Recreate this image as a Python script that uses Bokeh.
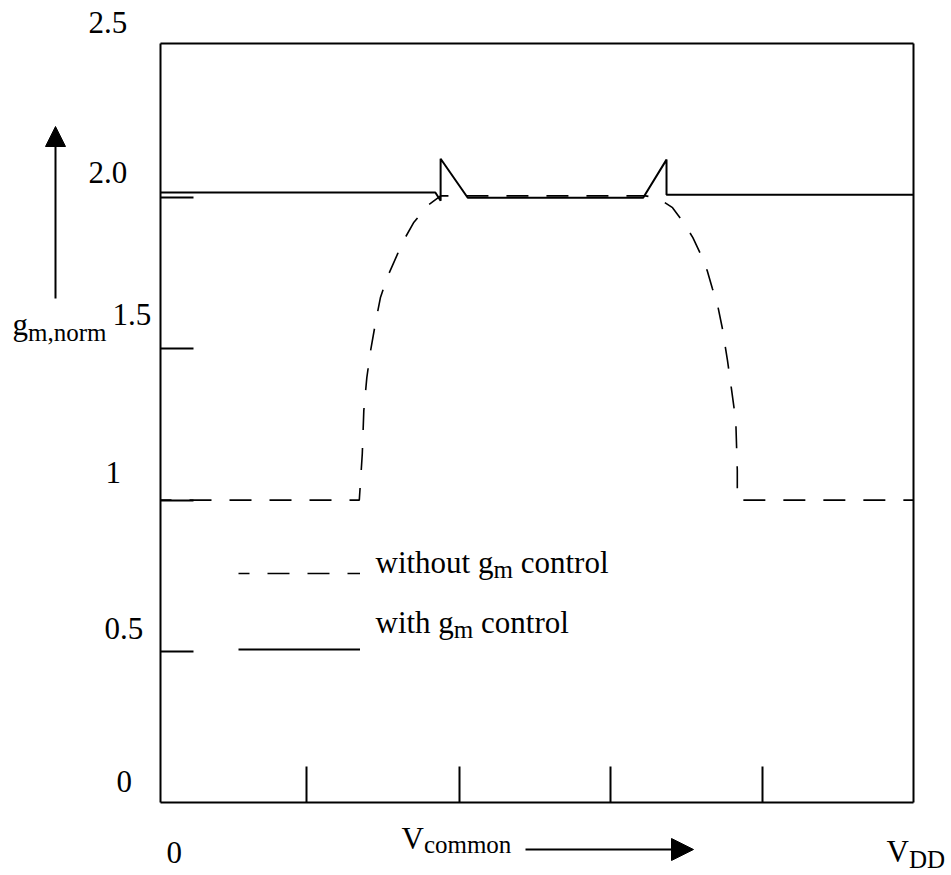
from bokeh.plotting import figure
from bokeh.models import (Range1d, LinearAxis, FixedTicker, Label, Arrow,
                          NormalHead, Legend, LegendItem)
from bokeh.embed import file_html
from bokeh.resources import INLINE

# ---------------- data ----------------
# without g_m control (dashed)
x_without = [0.0, 0.264, 0.268, 0.270, 0.274, 0.279, 0.286, 0.292, 0.301, 0.315,
             0.325, 0.336, 0.355, 0.372, 0.644, 0.660, 0.680, 0.695, 0.707, 0.717,
             0.726, 0.733, 0.740, 0.746, 0.753, 0.758, 0.764, 0.766, 0.766, 1.0]
y_without = [1.0, 1.0, 1.154, 1.296, 1.405, 1.494, 1.593, 1.669, 1.736, 1.815,
             1.868, 1.917, 1.975, 2.006, 2.006, 2.0, 1.967, 1.917, 1.868, 1.815,
             1.759, 1.699, 1.643, 1.570, 1.461, 1.372, 1.263, 1.098, 1.0, 1.0]
# with g_m control (solid)
x_with = [0.0, 0.365, 0.372, 0.372, 0.408, 0.641, 0.672, 0.672, 1.0]
y_with = [2.017, 2.017, 1.990, 2.129, 2.0, 2.0, 2.126, 2.010, 2.010]

y_ticks = [0.5, 1.0, 1.5, 2.0]
y_label_values = [0, 0.5, 1, 1.5, 2.0, 2.5]
y_label_texts = ["0", "0.5", "1", "1.5", "2.0", "2.5"]
x_ticks = [0.194, 0.397, 0.598, 0.799]
X_MIN, X_MAX = 0.0, 1.0
Y_MIN, Y_MAX = 0.0, 2.51

# ---------------- layout (page pixels) ----------------
W, H = 951, 875
BOX_L, BOX_R, BOX_T, BOX_B = 160, 913, 43, 802
PX_X = (BOX_R - BOX_L) / (X_MAX - X_MIN)
PX_Y = (BOX_B - BOX_T) / (Y_MAX - Y_MIN)
TEXT_RAISE = 11  # correction for how the svg text baseline is placed


def px2x(px):
    return X_MIN + (px - BOX_L) / PX_X


def py2y(py):
    return Y_MIN + (BOX_B - py) / PX_Y


FONT = "Liberation Serif"
MAIN = 31
SUB = 25
ADV = {'w': .722, 'i': .278, 't': .278, 'h': .5, 'o': .5, 'u': .5, ' ': .25,
       'g': .5, 'm': .778, 'c': .444, 'n': .5, 'r': .333, 'l': .278, ',': .25,
       'V': .722, 'D': .722, '0': .5}


def tw(s, size):
    return sum(ADV.get(ch, .5) for ch in s) * size


p = figure(width=W, height=H, output_backend="svg", toolbar_location=None,
           x_range=Range1d(px2x(0), px2x(W)), y_range=Range1d(py2y(H), py2y(0)),
           x_axis_type=None, y_axis_type=None, min_border=0)
p.outline_line_color = None
p.background_fill_color = "white"
p.border_fill_color = "white"


def make_axis(ticks, tick_len, loc, bounds):
    ax = LinearAxis(ticker=FixedTicker(ticks=[], minor_ticks=ticks),
                    fixed_location=loc, bounds=bounds)
    ax.major_tick_in = 0
    ax.major_tick_out = 0
    ax.minor_tick_in = tick_len
    ax.minor_tick_out = 0
    ax.minor_tick_line_width = 2
    ax.minor_tick_line_color = "black"
    ax.axis_line_width = 2
    ax.axis_line_color = "black"
    ax.major_label_standoff = 0
    return ax


p.add_layout(make_axis(y_ticks, 33, X_MIN, (Y_MIN, Y_MAX)), "left")
p.add_layout(make_axis(x_ticks, 36, Y_MIN, (X_MIN, X_MAX)), "below")
p.add_layout(make_axis([], 0, X_MAX, (Y_MIN, Y_MAX)), "right")
p.add_layout(make_axis([], 0, Y_MAX, (X_MIN, X_MAX)), "above")

r_without = p.line(x_without, y_without, line_color="black", line_width=1.6,
                   line_dash="22 18", line_dash_offset=11)
r_with = p.line(x_with, y_with, line_color="black", line_width=2)

legend = Legend(items=[LegendItem(label="", renderers=[r_without]),
                       LegendItem(label="", renderers=[r_with])],
                location=(238, H - 659), padding=0, margin=0,
                spacing=56, glyph_width=122, glyph_height=20,
                label_height=20, label_width=0, label_standoff=0,
                label_text_font_size="1px",
                border_line_color=None, background_fill_alpha=0)
p.add_layout(legend)


def txt(s, left_px, base_px, size=MAIN):
    p.add_layout(Label(x=px2x(left_px), y=py2y(base_px - TEXT_RAISE), text=s,
                       text_font=FONT, text_font_size=f"{size}px",
                       text_color="black", text_align="left",
                       text_baseline="alphabetic"))


def compose(parts, left_px, base_px):
    x = left_px
    for s, size, dy in parts:
        stripped = s.lstrip(" ")
        x += tw(s[:len(s) - len(stripped)], size)
        txt(stripped, x, base_px + dy, size)
        x += tw(stripped, size)


# y tick labels (placed above their tick marks, as in the drawing)
lab_dx = [-44, -56, -55, -48, -72, -72]
lab_up = [10, 12, 17, 23, 14, 13]
for v, t, dxp, up in zip(y_label_values, y_label_texts, lab_dx, lab_up):
    p.add_layout(Label(x=X_MIN, y=v + (up + TEXT_RAISE) / PX_Y, x_offset=dxp,
                       text=t, text_font=FONT, text_font_size=f"{MAIN}px",
                       text_color="black", text_align="left",
                       text_baseline="alphabetic"))

# x end labels
txt("0", 166, 863)
compose([("V", MAIN, 0), ("DD", SUB, 8)], 886, 862)
compose([("V", MAIN, 0), ("common", SUB, 6)], 401, 849)

# y axis title
compose([("g", MAIN, 0), ("m,norm", SUB, 8)], 12, 335)

# legend texts
compose([("without g", MAIN, 0), ("m", SUB, 7), (" control", MAIN, 0)], 375, 573)
compose([("with g", MAIN, 0), ("m", SUB, 7), (" control", MAIN, 0)], 375, 633)

# arrows
p.add_layout(Arrow(end=NormalHead(size=22, fill_color="black", line_color="black"),
                   x_start=px2x(525), y_start=py2y(849),
                   x_end=px2x(693), y_end=py2y(849),
                   line_color="black", line_width=2))
p.add_layout(Arrow(end=NormalHead(size=20, fill_color="black", line_color="black"),
                   x_start=px2x(55), y_start=py2y(298),
                   x_end=px2x(55), y_end=py2y(126),
                   line_color="black", line_width=2))

open("out.html", "w").write(file_html(p, INLINE))
